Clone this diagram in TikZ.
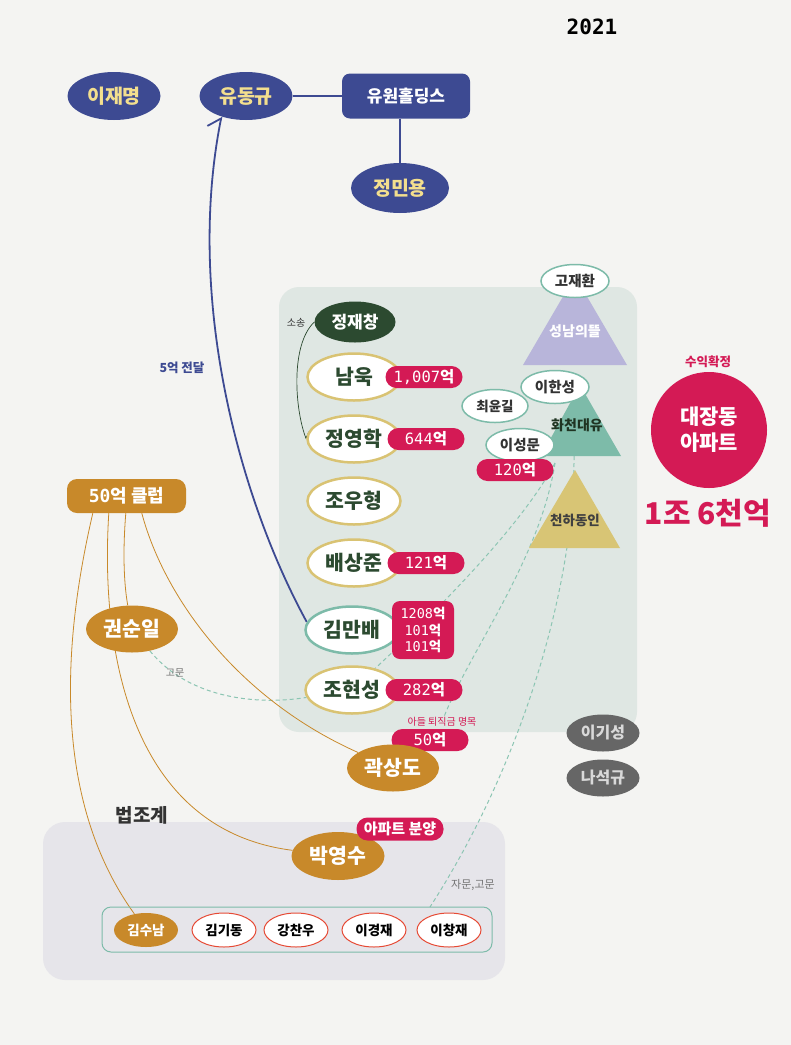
\documentclass[tikz,border=0pt]{standalone}
\usepackage{fontspec}
\setmainfont{Noto Sans CJK KR}
\newfontfamily\numfont{DejaVu Sans Mono}
\usetikzlibrary{arrows.meta,positioning,shapes.geometric,calc}

\definecolor{paper}{HTML}{F4F4F2}
\definecolor{panel}{HTML}{DFE7E3}
\definecolor{lawbg}{HTML}{E6E5EA}
\definecolor{navy}{HTML}{3D4A92}
\definecolor{lemon}{HTML}{F3DF8E}
\definecolor{pine}{HTML}{2C4A30}
\definecolor{straw}{HTML}{D9C373}
\definecolor{ochre}{HTML}{C8892A}
\definecolor{sea}{HTML}{7DBBA9}
\definecolor{seadash}{HTML}{8CC5B3}
\definecolor{lilac}{HTML}{B8B5DA}
\definecolor{sand}{HTML}{D8C575}
\definecolor{crimson}{HTML}{D41A55}
\definecolor{slate}{HTML}{666666}
\definecolor{redline}{HTML}{E64A35}

\newcommand{\fs}[1]{\fontsize{#1}{#1}\selectfont}
\newcommand{\won}[1]{{\numfont #1}{\bfseries 억}}

\pgfdeclarelayer{back}
\pgfdeclarelayer{wires}
\pgfsetlayers{back,wires,main}

\begin{document}
\begin{tikzpicture}[x=1pt,y=-1pt,semithick,node distance=62pt,>={Straight Barb[harpoon,length=10pt,width=24pt]}]
  \tikzstyle{navyball}=[ellipse,fill=navy,text=lemon,font=\fs{19.5}\bfseries,minimum width=93pt,minimum height=48pt,inner sep=0pt]
  \tikzstyle{person}=[ellipse,draw=straw,line width=2.5pt,fill=white,text=pine,font=\fs{20.5}\bfseries,minimum width=93pt,minimum height=47pt,inner sep=0pt]
  \tikzstyle{gold}=[ellipse,fill=ochre,text=white,font=\fs{20.5}\bfseries,minimum width=92pt,minimum height=47pt,inner sep=0pt]
  \tikzstyle{money}=[rounded corners=11pt,fill=crimson,text=white,font=\fs{15.5},minimum width=77pt,minimum height=22pt,inner sep=0pt]
  \tikzstyle{small}=[ellipse,draw=sea,line width=1.5pt,fill=white,text=black!80,font=\fs{14.5}\bfseries,minimum width=68pt,minimum height=33pt,inner sep=0pt]
  \tikzstyle{judge}=[ellipse,draw=redline,line width=1pt,fill=white,text=black,font=\fs{13.5}\bfseries,minimum width=64pt,minimum height=34pt,inner sep=0pt]
  \tikzstyle{greyball}=[ellipse,fill=slate,text=white!85!black,font=\fs{16}\bfseries,minimum width=73pt,minimum height=37pt,inner sep=0pt]
  \tikzstyle{tag}=[inner sep=0pt,font=\fs{10}]
  \tikzstyle{hint}=[seadash,line width=1pt,dash pattern=on 4pt off 3pt]
  \tikzstyle{club}=[ochre,line width=0.8pt]

  \begin{pgfonlayer}{back}
    \fill[paper] (0,0) rectangle (791,1045);
    \fill[panel,rounded corners=20pt] (279,287) rectangle (637,732);
    \fill[lawbg,rounded corners=22pt] (43,822) rectangle (505,980);
  \end{pgfonlayer}

  \node[font=\fs{21}\bfseries\numfont] (year) at (592,27) {2021};

  % top group
  \node[navyball] (ljm) at (114,96) {이재명};
  \node[navyball] (ydg) at (246,96) {유동규};
  \node[rounded corners=8pt,fill=navy,text=white,font=\fs{17}\bfseries,minimum width=128pt,minimum height=45pt] (ywh) at (406,96) {유원홀딩스};
  \node[navyball,minimum width=98pt,minimum height=50pt] (jmy) at (400,188) {정민용};

  % triangles
  \fill[lilac] (523,365) -- (575,276) -- (627,365) -- cycle;
  \fill[sea] (541,456) -- (580,385) -- (621,456) -- cycle;
  \fill[sand] (529,548) -- (575,470) -- (620,548) -- cycle;
  \node[text=white,font=\fs{14}\bfseries] (snd) at (575,331) {성남의뜰};
  \node[text=pine!70!black,font=\fs{14}\bfseries] (hcd) at (577,425) {화천대유};
  \node[text=black!75,font=\fs{13.5}\bfseries] (chd) at (575,520) {천하동인};
  \coordinate (hc) at (555,463);
  \coordinate (hbase) at (574,456);

  \node[small] (gjh) at (575,281) {고재환};
  \node[small] (lhs) at (555,387) {이한성};
  \node[small,minimum width=66pt,font=\fs{13.5}\bfseries] (cyg) at (495,406) {최윤길};
  \node[small] (lsm) at (520,445) {이성문};
  \node[money] (m120) at (515,470) {\won{120}};

  % people in the panel
  \node[ellipse,fill=pine,text=white,font=\fs{17}\bfseries,minimum width=81pt,minimum height=41pt,inner sep=0pt] (jjc) at (355,322) {정재창};
  \node[tag,text=black!80] (suit) at (296,323) {소송};
  \node[person] (nw) at (354,377) {남욱};
  \node[person] (jyh) [below of=nw] {정영학};
  \node[person] (jwh) [below of=jyh] {조우형};
  \node[person] (bsj) [below of=jwh] {배상준};
  \node[person,draw=sea] (kmb) at (352,630) {김만배};
  \node[person,node distance=60pt] (jhs) [below of=kmb] {조현성};

  \node[money,node distance=70pt] (m1) [right of=nw] {\won{1,007}};
  \node[money,node distance=72pt] (m2) [right of=jyh] {\won{644}};
  \node[money,node distance=72pt] (m3) [right of=bsj] {\won{121}};
  \node[money,node distance=71pt,rounded corners=8pt,minimum width=62pt,minimum height=58pt,align=center,font=\fontsize{13.5}{16.5}\selectfont] (m4) [right of=kmb] {\won{1208}\\\won{101}\\\won{101}};
  \node[money,node distance=72pt] (m5) [right of=jhs] {\won{282}};

  \node[tag,text=crimson] (son) at (442,722) {아들 퇴직금 명목};
  \node[money] (m50) at (430,740) {\won{50}};
  \node[gold] (ksd) at (393,768) {곽상도};

  \node[greyball] (lks) at (603,733) {이기성};
  \node[greyball] (nsk) at (603,778) {나석규};

  % right side
  \node[tag,text=crimson,font=\fs{12.5}\bfseries] (sig) at (708,362) {수익확정};
  \node[circle,fill=crimson,text=white,minimum size=116pt,inner sep=0pt,align=center,font=\fontsize{21}{26}\selectfont\bfseries] (apt) at (709,430) {대장동\\아파트};
  \node[text=crimson,font=\fs{30}\bfseries] (tot) at (708,513) {1조 6천억};

  % left side
  \node[tag,text=navy,font=\fs{12.5}\bfseries] (five) at (182,368) {5억 전달};
  \node[rounded corners=10pt,fill=ochre,text=white,font=\fs{18}\bfseries,minimum width=119pt,minimum height=34pt] (club) at (126.5,496) {{\numfont 50}억 클럽};
  \node[gold] (ksi) at (132,629) {권순일};
  \node[tag,text=black!55] (adv) at (175,673) {고문};

  % 법조계
  \node[font=\fs{19}\bfseries,text=black!80] (law) at (142,815) {법조계};
  \node[gold,minimum width=93pt,minimum height=48pt] (pys) at (338,856) {박영수};
  \node[money,minimum width=87pt,minimum height=23pt,font=\fs{15}\bfseries] (sale) at (400,829) {아파트 분양};
  \node[tag,text=black!55,font=\fs{11}] (adv2) at (473,885) {자문,고문};
  \node[draw=sea,line width=1pt,rounded corners=9pt,minimum width=390pt,minimum height=45pt] (row) at (297,929.5) {};
  \coordinate (rowtop) at (430,907);
  \node[ellipse,fill=ochre,text=white,font=\fs{13.5}\bfseries,minimum width=64pt,minimum height=34pt,inner sep=0pt] (ksn) at (146,930) {김수남};
  \node[judge] (kgd) at (224,930) {김기동};
  \node[judge] (kcw) at (296,930) {강찬우};
  \node[judge] (lgj) at (374,930) {이경재};
  \node[judge] (lcj) at (449,930) {이창재};

  \begin{pgfonlayer}{wires}
    \path (ydg) edge[navy,line width=1.5pt] (ywh);
    \draw[navy,line width=1.5pt] (ywh.south -| jmy) -- (jmy);
    \draw[navy,line width=1.8pt,->] (kmb.170) .. controls (240,500) and (185,300) .. (ydg.220);
    \draw[pine,line width=0.7pt,->,>={Straight Barb[harpoon,length=5pt,width=10pt]}] (jjc.west) .. controls (290,345) and (295,410) .. (jyh.west);

    \draw[hint] (hc) .. controls (530,510) and (470,580) .. (jhs);
    \draw[hint] (hc) .. controls (540,560) and (470,650) .. (son);
    \draw[hint] (hbase) .. controls (575,580) and (525,760) .. (rowtop);
    \draw[hint] (ksi) .. controls (190,700) and (260,705) .. (jhs);

    \draw[club] ($(club.south west)+(26,0)$) .. controls (68,620) and (45,790) .. (ksn);
    \draw[club] ($(club.south west)+(42,0)$) .. controls (100,650) and (130,830) .. (pys);
    \draw[club] ($(club.south west)+(59,0)$) .. controls (122,560) and (125,590) .. (ksi);
    \draw[club] ($(club.south west)+(75,0)$) .. controls (165,600) and (240,700) .. (ksd);
  \end{pgfonlayer}
\end{tikzpicture}
\end{document}
